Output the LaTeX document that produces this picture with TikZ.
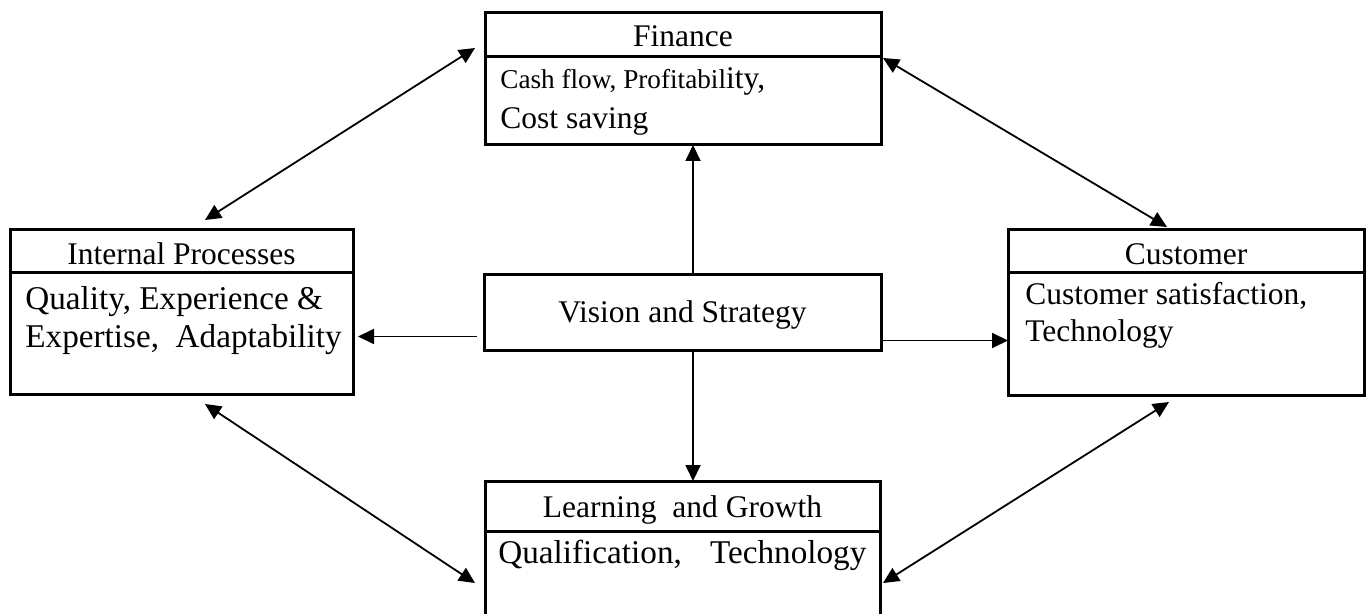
\documentclass[tikz,border=0pt]{standalone}
\usepackage{fontspec}
\setmainfont{Liberation Serif}
\usetikzlibrary{arrows.meta}
\tikzset{
  box/.style={draw, line width=1.5pt, inner sep=0pt, outer sep=0pt, anchor=north west},
  divider/.style={line width=1.5pt},
  conn/.style={line width=0.9pt, -{Triangle[length=8pt,width=7.5pt]}},
  biconn/.style={line width=0.9pt, {Triangle[length=8pt,width=7.5pt]}-{Triangle[length=8pt,width=7.5pt]}},
  ttl/.style={font=\fontsize{15.75}{18}\selectfont, inner sep=0pt, anchor=base},
  body/.style={font=\fontsize{15.75}{18}\selectfont, inner sep=0pt, anchor=base west},
  bigbody/.style={body, font=\fontsize{16.6}{19}\selectfont},
}
\begin{document}
\begin{tikzpicture}[x=0.5pt,y=-0.5pt]
\useasboundingbox (0,0) rectangle (1368,614);
\clip (0,0) rectangle (1368,614);

% Finance
\node[box, minimum width=198pt, minimum height=66pt] (fin) at (485,13) {};
\draw[divider] (fin.west |- 0,57) -- (fin.east |- 0,57);
\node[ttl] (fint) at (683,47) {Finance};
\node[body] (finb1) at (500,89) {{\fontsize{13.6}{15}\selectfont Cash flow, Profitabil}ity,};
\node[body] (finb2) at (500,129) {Cost saving};

% Internal Processes
\node[box, minimum width=171.5pt, minimum height=82pt] (ip) at (10,230) {};
\draw[divider] (ip.west |- 0,273) -- (ip.east |- 0,273);
\node[ttl] (ipt) at (181.5,265) {Internal Processes};
\node[bigbody] (ipb1) at (25,309) {Quality, Experience \&};
\node[bigbody] (ipb2) at (25,347) {Expertise,\hspace{0.25em} Adaptability};

% Customer
\node[box, minimum width=178pt, minimum height=82.5pt] (cu) at (1008,230) {};
\draw[divider] (cu.west |- 0,273) -- (cu.east |- 0,273);
\node[ttl] (cut) at (1186,265) {Customer};
\node[body] (cub1) at (1025,305) {Customer satisfaction,};
\node[body] (cub2) at (1025,341) {Technology};

% Vision and Strategy
\node[box, minimum width=198.5pt, minimum height=37.5pt] (vs) at (484,275) {};
\node[ttl] (vst) at (682.5,322) {Vision and Strategy};

% Learning and Growth (open at bottom)
\node[inner sep=0pt, outer sep=0pt, anchor=north west, minimum width=197.5pt, minimum height=70pt] (lg) at (485,481) {};
\draw[line width=1.5pt] (lg.south west) -- (lg.north west) -- (lg.north east) -- (lg.south east);
\draw[divider] (lg.west |- 0,531) -- (lg.east |- 0,531);
\node[ttl] (lgt) at (682.5,517) {Learning\hspace{0.25em} and Growth};
\node[bigbody] (lgb) at (498,563) {Qualification,\hspace{0.6em} Technology};

% Connectors from Vision and Strategy
\draw[conn] ([xshift=5.25pt]vs.north) -- ([xshift=5.25pt]vs.north |- fin.south);
\draw[conn] ([xshift=5.25pt]vs.south) -- ([xshift=5.25pt]vs.south |- lg.north);
\draw[conn, shorten >=2.5pt] ([xshift=-3.5pt,yshift=-12pt]vs.west) -- ([yshift=-12pt]vs.west -| ip.east);
\draw[conn] ([yshift=-14pt]vs.east) -- ([yshift=-14pt]vs.east -| cu.west);

% Diagonal two-way connectors
\draw[biconn] ([shift={(-5pt,-17.5pt)}]fin.north west) -- ([shift={(97.5pt,5pt)}]ip.north west);
\draw[biconn] ([shift={(1pt,-22.5pt)}]fin.north east) -- ([shift={(79.5pt,1.5pt)}]cu.north west);
\draw[biconn] ([shift={(97.5pt,-5pt)}]ip.south west) -- ([shift={(-5pt,-51pt)}]lg.north west);
\draw[biconn] ([shift={(80.5pt,-3.5pt)}]cu.south west) -- ([shift={(1.5pt,-51pt)}]lg.north east);
\end{tikzpicture}
\end{document}
